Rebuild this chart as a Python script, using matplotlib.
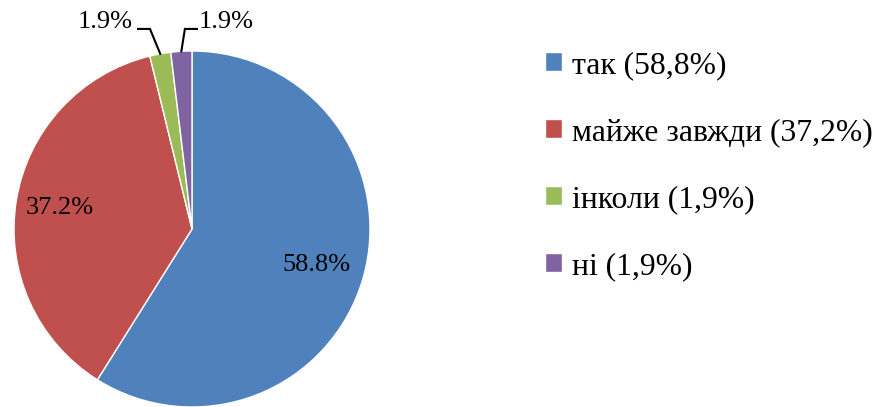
import matplotlib.pyplot as plt
import numpy as np

plt.rcParams['font.family'] = ['Liberation Serif', 'DejaVu Serif']

labels = ["так (58,8%)", "майже завжди (37,2%)", "інколи (1,9%)", "ні (1,9%)"]
shares = [58.8, 37.2, 1.9, 1.9]
colors = ['#4F81BD', '#C0504D', '#9BBB59', '#8064A2']

fig = plt.figure(figsize=(8.78, 4.07), dpi=100)
W, H = 878, 407
R = 178
ax = fig.add_axes([(192 - R) / W, 0, 2 * R / W, 2 * R / H])

wedges, _ = ax.pie(shares, colors=colors, startangle=90, counterclock=False,
                   radius=1, wedgeprops=dict(edgecolor='white', linewidth=1))
ax.set_xlim(-1, 1)
ax.set_ylim(-1, 1)
ax.set_aspect('equal')
ax.axis('off')

# labels inside the two big slices
inside_dist = [0.73, 0.75]
for w, val, d in zip(wedges[:2], shares[:2], inside_dist):
    mid = np.deg2rad((w.theta1 + w.theta2) / 2)
    ax.text(d * np.cos(mid), d * np.sin(mid), f"{val:.1f}%",
            ha='center', va='center', fontsize=19)

# small slices get labels above with elbow leader lines
label_x = [-0.49, 0.19]
elbow_x = [(-0.303, -0.236), (0.028, -0.04)]
for w, val, lx, (ex0, ex1) in zip(wedges[2:], shares[2:], label_x, elbow_x):
    mid = np.deg2rad((w.theta1 + w.theta2) / 2)
    px, py = np.cos(mid), np.sin(mid)
    yh = 1.124
    ax.plot([ex0, ex1, px], [yh, yh, py], color='black', lw=1.5,
            clip_on=False, solid_joinstyle='miter')
    ax.text(lx, 1.163, f"{val:.1f}%", ha='center', va='center', fontsize=19,
            clip_on=False)

fig.legend(wedges, labels, loc='upper left', bbox_to_anchor=(545 / W, 1 - 51 / H),
           frameon=False, fontsize=22.8, handlelength=0.55, handleheight=0.55,
           handletextpad=0.3, labelspacing=1.2, borderaxespad=0, borderpad=0)

fig.savefig('out.png', dpi=100)
